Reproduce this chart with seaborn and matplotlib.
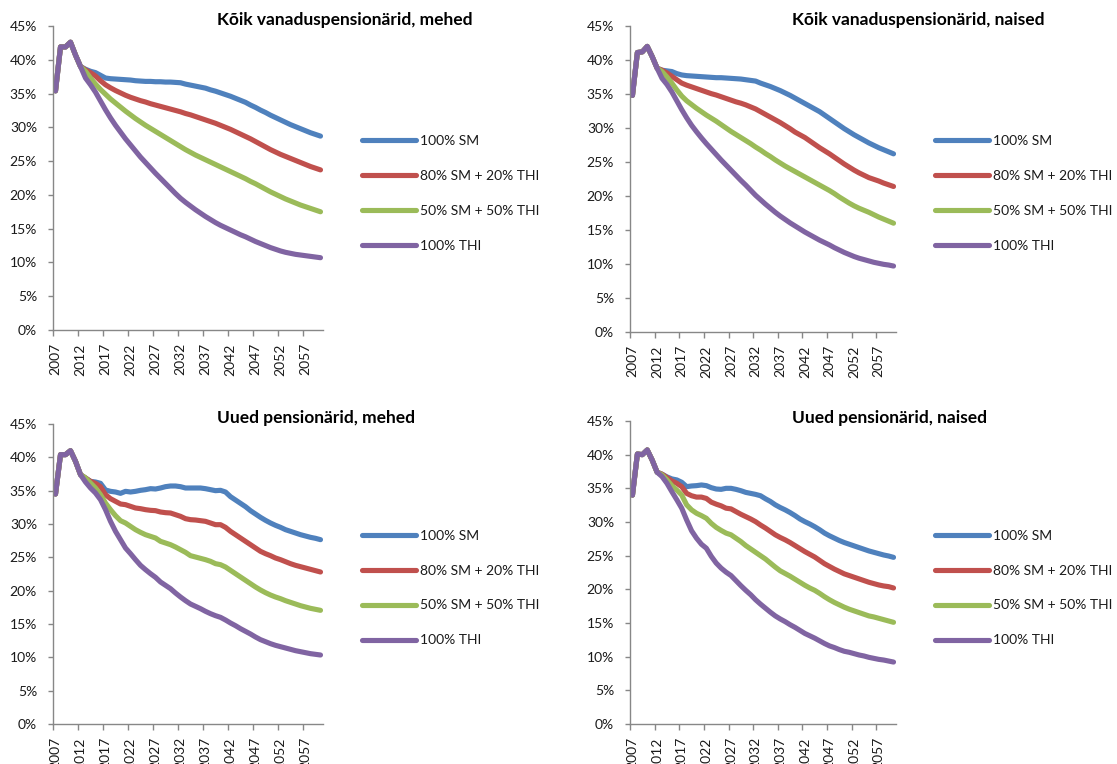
import matplotlib
matplotlib.use("Agg")
import matplotlib.pyplot as plt
import numpy as np
import pandas as pd
import seaborn as sns
from matplotlib.ticker import FuncFormatter

years = list(range(2007, 2061))
scenarios = ["100% SM", "80% SM + 20% THI", "50% SM + 50% THI", "100% THI"]
colors = ["#4F81BD", "#C0504D", "#9BBB59", "#8064A2"]
titles = ["Kõik vanaduspensionärid, mehed", "Kõik vanaduspensionärid, naised",
          "Uued pensionärid, mehed", "Uued pensionärid, naised"]
tick_years = [2007, 2012, 2017, 2022, 2027, 2032, 2037, 2042, 2047, 2052, 2057]
y_ticks = [0, 5, 10, 15, 20, 25, 30, 35, 40, 45]

# 2007-2012 (shared by all scenarios of a panel)
tl_start = [35.4, 41.9, 41.9, 42.6, 40.7, 39.0]
tr_start = [34.8, 41.1, 41.2, 42.0, 40.5, 38.8]
bl_start = [34.5, 40.4, 40.4, 41.0, 39.4, 37.4]
br_start = [34.0, 40.1, 40.0, 40.7, 39.2, 37.4]

# 2013-2060
tl_sm = [38.6, 38.3, 38.1, 37.7, 37.3, 37.2, 37.15, 37.1, 37.05, 37.0,
         36.9, 36.85, 36.8, 36.8, 36.75, 36.75, 36.7, 36.7, 36.65, 36.6,
         36.4, 36.25, 36.1, 35.95, 35.8, 35.55, 35.35, 35.1, 34.85, 34.6,
         34.3, 34.0, 33.7, 33.3, 32.95, 32.55, 32.2, 31.8, 31.45, 31.1,
         30.75, 30.4, 30.1, 29.8, 29.5, 29.2, 28.95, 28.7]
tl_80 = [38.5, 38.1, 37.6, 36.9, 36.3, 35.85, 35.45, 35.1, 34.75, 34.45,
         34.2, 33.95, 33.75, 33.5, 33.3, 33.1, 32.9, 32.7, 32.5, 32.3,
         32.05, 31.85, 31.6, 31.35, 31.1, 30.85, 30.6, 30.3, 30.0, 29.7,
         29.35, 29.0, 28.65, 28.3, 27.9, 27.5, 27.1, 26.7, 26.35, 26.0,
         25.7, 25.4, 25.1, 24.8, 24.5, 24.2, 23.95, 23.7]
tl_50 = [38.3, 37.3, 36.4, 35.6, 34.9, 34.2, 33.6, 33.0, 32.4, 31.85,
         31.3, 30.8, 30.3, 29.85, 29.4, 28.95, 28.5, 28.05, 27.6, 27.15,
         26.7, 26.3, 25.9, 25.55, 25.2, 24.85, 24.5, 24.15, 23.8, 23.45,
         23.1, 22.75, 22.4, 22.0, 21.65, 21.25, 20.85, 20.45, 20.1, 19.75,
         19.4, 19.1, 18.8, 18.5, 18.25, 18.0, 17.75, 17.5]
tl_thi = [37.3, 36.3, 35.2, 33.9, 32.6, 31.4, 30.3, 29.3, 28.3, 27.4,
          26.5, 25.6, 24.8, 24.0, 23.2, 22.45, 21.7, 20.95, 20.2, 19.5,
          18.9, 18.35, 17.8, 17.3, 16.8, 16.35, 15.9, 15.5, 15.15, 14.8,
          14.45, 14.1, 13.8, 13.45, 13.1, 12.8, 12.5, 12.2, 11.95, 11.7,
          11.5, 11.35, 11.2, 11.1, 11.0, 10.9, 10.8, 10.7]

tr_sm = [38.5, 38.4, 38.3, 38.0, 37.8, 37.7, 37.65, 37.6, 37.55, 37.5,
         37.45, 37.4, 37.4, 37.35, 37.3, 37.25, 37.2, 37.1, 37.0, 36.9,
         36.6, 36.35, 36.1, 35.8, 35.5, 35.15, 34.8, 34.4, 34.0, 33.6,
         33.2, 32.8, 32.4, 31.9, 31.4, 30.9, 30.4, 29.9, 29.45, 29.0,
         28.6, 28.2, 27.8, 27.45, 27.1, 26.8, 26.5, 26.2]
tr_80 = [38.5, 38.1, 37.6, 37.1, 36.6, 36.3, 36.05, 35.8, 35.55, 35.3,
         35.05, 34.85, 34.6, 34.35, 34.1, 33.85, 33.65, 33.4, 33.1, 32.8,
         32.4, 32.0, 31.6, 31.2, 30.8, 30.35, 29.9, 29.4, 29.0, 28.6,
         28.1, 27.6, 27.1, 26.65, 26.2, 25.7, 25.2, 24.7, 24.25, 23.8,
         23.4, 23.05, 22.7, 22.45, 22.2, 21.9, 21.65, 21.4]
tr_50 = [38.3, 37.5, 36.6, 35.6, 34.7, 34.0, 33.45, 32.9, 32.4, 31.9,
         31.45, 31.0, 30.5, 30.0, 29.5, 29.05, 28.6, 28.15, 27.7, 27.2,
         26.75, 26.25, 25.8, 25.3, 24.85, 24.4, 24.0, 23.6, 23.2, 22.8,
         22.4, 22.0, 21.6, 21.2, 20.8, 20.35, 19.85, 19.4, 18.95, 18.55,
         18.2, 17.9, 17.6, 17.25, 16.9, 16.6, 16.3, 16.0]
tr_thi = [37.3, 36.4, 35.3, 34.0, 32.7, 31.5, 30.4, 29.45, 28.55, 27.7,
          26.9, 26.1, 25.3, 24.55, 23.8, 23.05, 22.3, 21.6, 20.85, 20.1,
          19.45, 18.8, 18.2, 17.6, 17.05, 16.55, 16.05, 15.6, 15.15, 14.7,
          14.3, 13.9, 13.5, 13.15, 12.8, 12.4, 12.05, 11.7, 11.4, 11.1,
          10.85, 10.65, 10.45, 10.25, 10.1, 9.95, 9.85, 9.7]

bl_sm = [36.9, 36.4, 36.3, 36.1, 35.1, 34.9, 34.8, 34.6, 34.9, 34.8,
         34.9, 35.05, 35.15, 35.3, 35.25, 35.4, 35.6, 35.7, 35.7, 35.6,
         35.4, 35.4, 35.4, 35.4, 35.3, 35.15, 35.0, 35.05, 34.8, 34.1,
         33.6, 33.1, 32.6, 32.0, 31.5, 31.0, 30.55, 30.15, 29.8, 29.5,
         29.15, 28.9, 28.65, 28.4, 28.2, 28.0, 27.85, 27.65]
bl_80 = [36.9, 36.4, 36.1, 35.6, 34.4, 33.8, 33.4, 33.0, 32.9, 32.65,
         32.4, 32.3, 32.15, 32.05, 32.0, 31.8, 31.7, 31.65, 31.4, 31.15,
         30.8, 30.65, 30.6, 30.5, 30.4, 30.15, 29.9, 29.9, 29.5, 28.9,
         28.4, 27.9, 27.4, 26.9, 26.4, 25.9, 25.55, 25.25, 24.9, 24.65,
         24.35, 24.05, 23.8, 23.6, 23.4, 23.2, 23.0, 22.8]
bl_50 = [36.9, 36.15, 35.4, 34.4, 33.15, 32.15, 31.25, 30.5, 30.15, 29.65,
         29.15, 28.75, 28.4, 28.15, 27.9, 27.4, 27.15, 26.9, 26.55, 26.15,
         25.75, 25.25, 25.05, 24.85, 24.65, 24.4, 24.05, 23.9, 23.55, 23.05,
         22.55, 22.05, 21.55, 21.05, 20.55, 20.1, 19.7, 19.35, 19.05, 18.8,
         18.5, 18.25, 18.0, 17.75, 17.55, 17.35, 17.2, 17.05]
bl_thi = [36.3, 35.4, 34.65, 33.65, 32.15, 30.4, 28.9, 27.65, 26.4, 25.55,
          24.65, 23.8, 23.15, 22.55, 22.0, 21.3, 20.8, 20.3, 19.65, 19.05,
          18.5, 18.0, 17.65, 17.3, 16.9, 16.55, 16.25, 16.0, 15.6, 15.15,
          14.75, 14.3, 13.9, 13.5, 13.05, 12.65, 12.35, 12.05, 11.8, 11.6,
          11.4, 11.2, 11.0, 10.85, 10.7, 10.55, 10.45, 10.35]

br_sm = [37.1, 36.7, 36.4, 36.25, 35.9, 35.25, 35.35, 35.4, 35.5, 35.4,
         35.1, 34.9, 34.85, 35.0, 35.0, 34.85, 34.65, 34.4, 34.25, 34.1,
         33.9, 33.45, 33.05, 32.55, 32.15, 31.8, 31.4, 30.95, 30.45, 30.05,
         29.7, 29.3, 28.85, 28.35, 27.95, 27.6, 27.25, 26.95, 26.7, 26.45,
         26.2, 25.95, 25.7, 25.5, 25.3, 25.1, 24.95, 24.75]
br_80 = [37.1, 36.6, 36.1, 35.75, 35.25, 34.25, 33.9, 33.7, 33.7, 33.5,
         32.95, 32.65, 32.4, 32.05, 31.95, 31.55, 31.15, 30.8, 30.45, 30.05,
         29.55, 29.1, 28.6, 28.1, 27.7, 27.35, 26.95, 26.5, 26.05, 25.6,
         25.2, 24.8, 24.3, 23.8, 23.4, 23.0, 22.65, 22.3, 22.05, 21.8,
         21.55, 21.3, 21.05, 20.85, 20.65, 20.5, 20.4, 20.2]
br_50 = [37.0, 36.25, 35.4, 34.75, 34.0, 32.55, 31.8, 31.3, 30.95, 30.55,
         29.8, 29.2, 28.75, 28.35, 28.1, 27.6, 27.1, 26.5, 26.0, 25.5,
         25.0, 24.5, 23.9, 23.3, 22.75, 22.35, 21.95, 21.5, 21.05, 20.6,
         20.2, 19.85, 19.4, 18.9, 18.45, 18.05, 17.7, 17.35, 17.05, 16.8,
         16.55, 16.3, 16.05, 15.9, 15.7, 15.5, 15.3, 15.1]
br_thi = [36.75, 35.75, 34.5, 33.3, 32.05, 30.3, 28.7, 27.6, 26.7, 26.1,
          24.9, 23.9, 23.15, 22.55, 22.05, 21.3, 20.55, 19.85, 19.2, 18.45,
          17.8, 17.2, 16.6, 16.05, 15.6, 15.2, 14.75, 14.35, 13.9, 13.45,
          13.1, 12.75, 12.35, 11.95, 11.6, 11.35, 11.05, 10.8, 10.65, 10.45,
          10.25, 10.1, 9.9, 9.75, 9.6, 9.5, 9.35, 9.2]

panels = [
    (tl_start, [tl_sm, tl_80, tl_50, tl_thi]),
    (tr_start, [tr_sm, tr_80, tr_50, tr_thi]),
    (bl_start, [bl_sm, bl_80, bl_50, bl_thi]),
    (br_start, [br_sm, br_80, br_50, br_thi]),
]

# ---- layout (pixels) ----
W, H = 1117, 764
axes_px = [(53, 323, 26, 330), (630, 896, 26, 332),
           (53, 323, 424, 724), (630, 896, 421, 724)]
title_px = [(217, 20), (792, 20), (217, 418), (792, 418)]
legend_px = [(362, 193.5), (935, 193.5), (362, 588), (935, 588)]

sns.set_style("white")
plt.rcParams["font.family"] = ["Lato", "DejaVu Sans"]
text_color = "#1a1a1a"
axis_color = "#878787"

fig = plt.figure(figsize=(W / 100, H / 100), dpi=100)
fig.patch.set_facecolor("white")

for i, (start, series) in enumerate(panels):
    rows = []
    for name, vals in zip(scenarios, series):
        full = start + vals
        for y, v in zip(years, full):
            rows.append({"year": y, "value": v, "scenario": name})
    df = pd.DataFrame(rows)

    l, r, t, b = axes_px[i]
    ax = fig.add_axes([l / W, 1 - b / H, (r - l) / W, (b - t) / H])
    sns.lineplot(data=df, x="year", y="value", hue="scenario",
                 hue_order=scenarios, palette=colors, linewidth=3.7,
                 solid_capstyle="round", solid_joinstyle="round",
                 ax=ax, legend=True)

    ax.set_xlim(2006.5, 2060.5)
    ax.set_ylim(0, 45)
    ax.set_xlabel("")
    ax.set_ylabel("")
    for s in ["top", "right"]:
        ax.spines[s].set_visible(False)
    for s in ["left", "bottom"]:
        ax.spines[s].set_color(axis_color)
        ax.spines[s].set_linewidth(1.0)

    ax.set_yticks(y_ticks)
    ax.yaxis.set_major_formatter(FuncFormatter(lambda v, p: f"{v:.0f}%"))
    ax.tick_params(axis="y", direction="out", length=3.5, width=1.0,
                   color=axis_color, pad=8, labelsize=10, labelcolor=text_color,
                   left=True)

    ax.set_xticks(tick_years)
    ax.set_xticklabels([str(y) for y in tick_years], rotation=90)
    ax.set_xticks([2006.5 + 5 * k for k in range(11)], minor=True)
    ax.tick_params(axis="x", which="major", length=0, pad=9.5, labelsize=10,
                   labelcolor=text_color)
    ax.tick_params(axis="x", which="minor", direction="out", length=4,
                   width=1.0, color=axis_color, bottom=True)

    old = ax.get_legend()
    handles = old.legend_handles
    labels = [tx.get_text() for tx in old.get_texts()]
    old.remove()
    lx, ly = legend_px[i]
    leg = ax.legend(handles, labels, loc="center left",
                    bbox_to_anchor=(lx / W, 1 - ly / H),
                    bbox_transform=fig.transFigure, frameon=False,
                    handlelength=3.9, handletextpad=0.3, labelspacing=1.65,
                    borderpad=0, borderaxespad=0, fontsize=10)
    for h in leg.legend_handles:
        h.set_linewidth(3.7)
        h.set_solid_capstyle("round")
    for tx in leg.get_texts():
        tx.set_color(text_color)

    tx_, ty_ = title_px[i]
    fig.text(tx_ / W, 1 - ty_ / H, titles[i], ha="left", va="center",
             fontsize=12.5, fontweight="bold", color="#000000")

fig.savefig("out.png", dpi=100)
